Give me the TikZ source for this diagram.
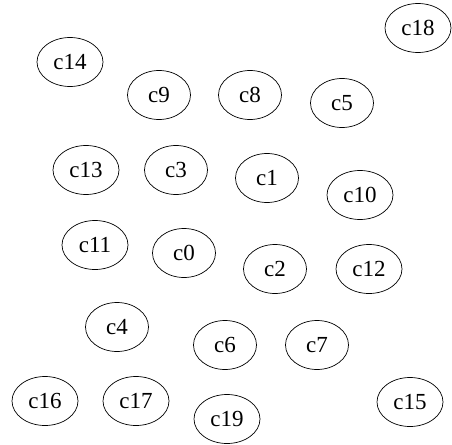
\documentclass[tikz,border=0pt]{standalone}
\usepackage{fontspec}
\setmainfont{Liberation Serif}
\usetikzlibrary{shapes.geometric}

\begin{document}
\begin{tikzpicture}[x=1pt, y=-1pt,
        cell/.style={ellipse, draw=black, line width=0.7pt, inner sep=0pt,
                     minimum width=63pt, minimum height=49pt,
                     font=\fontsize{23}{27}\selectfont},
        cellw/.style={cell, minimum width=66pt}]
    \useasboundingbox (0,0) rectangle (452,444);
    % top rows
    \node[cellw] (c18) at (418,28)  {c18};
    \node[cellw] (c14) at (70,62)   {c14};
    \node[cell]  (c9)  at (159,95)  {c9};
    \node[cell]  (c8)  at (250,95)  {c8};
    \node[cell]  (c5)  at (342,103) {c5};
    \node[cellw] (c13) at (86,170)  {c13};
    \node[cell]  (c3)  at (176,170) {c3};
    \node[cell]  (c1)  at (267,178) {c1};
    \node[cellw] (c10) at (360,195) {c10};
    % middle rows
    \node[cellw] (c11) at (95,245)  {c11};
    \node[cell]  (c0)  at (184,253) {c0};
    \node[cell]  (c2)  at (275,269) {c2};
    \node[cellw] (c12) at (369,269) {c12};
    \node[cell]  (c4)  at (117,327) {c4};
    \node[cell]  (c6)  at (225,345) {c6};
    \node[cell]  (c7)  at (317,345) {c7};
    % bottom row
    \node[cellw] (c16) at (45,401)  {c16};
    \node[cellw] (c17) at (136,401) {c17};
    \node[cellw] (c19) at (227,419) {c19};
    \node[cellw] (c15) at (410,402) {c15};
\end{tikzpicture}
\end{document}
